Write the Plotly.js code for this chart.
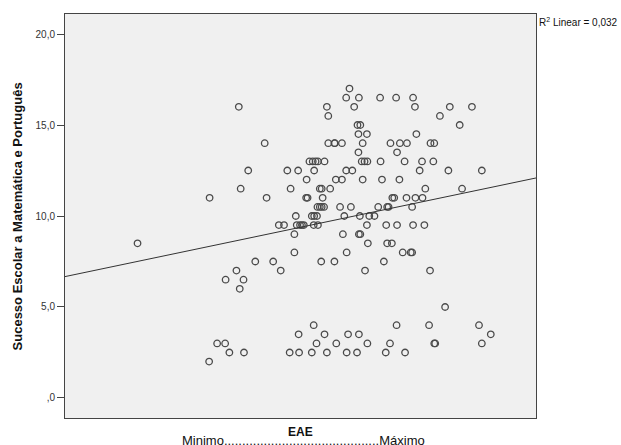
<!DOCTYPE html>
<html>
<head>
<meta charset="utf-8">
<script src="https://cdn.plot.ly/plotly-3.0.1.min.js"></script>
<style>html,body{margin:0;padding:0;background:#fff;}#chart{width:621px;height:445px;}</style>
</head>
<body>
<div id="chart"></div>
<script>
// EAE (horizontal position, arbitrary 0-100 scale: Minimo ... Máximo)
const eae = [
  60.4,
  59.7, 62.4, 66.9, 70.3, 73.9,
  36.9, 55.6, 61.4, 74.3, 81.7, 86.4,
  55.9, 79.6,
  62.1, 62.7, 83.8,
  62.3, 64.1, 74.6,
  42.4, 55.9, 57.2, 57.3, 58.8, 63.2, 69.1, 71.1, 72.6, 77.6, 78.4,
  62.3, 70.5,
  51.9, 52.6, 53.2, 53.7, 55.1, 63.0, 63.6, 64.2, 67.0, 72.1, 75.8, 78.2,
  38.9, 47.2, 49.5, 52.9, 59.7, 61.0, 75.3, 81.4, 88.5,
  51.3, 57.5, 58.8, 63.2, 67.3, 71.0,
  37.3, 47.9, 54.1, 54.5, 56.3, 76.5, 84.3,
  30.7, 42.8, 51.2, 51.5, 54.7, 69.5, 69.9, 72.5, 74.4, 75.9,
  53.6, 54.1, 54.5, 55.0, 58.4, 60.7, 66.5, 68.4, 68.7, 73.7,
  49.0, 52.4, 52.9, 53.5, 59.3, 62.6, 64.6, 65.7,
  45.4, 46.5, 49.2, 49.9, 50.3, 50.7, 52.8, 53.7, 64.1, 68.2, 70.5, 73.9, 76.3,
  48.7, 59.0, 62.4, 62.7,
  15.4, 64.3, 68.4, 69.4,
  48.7, 59.8, 71.7, 73.4, 73.7,
  40.4, 44.2, 54.4, 57.2, 67.7,
  36.4, 45.8, 63.7, 77.5,
  34.1, 37.9,
  37.1,
  80.7,
  52.8, 70.4, 77.3, 87.9,
  49.6, 55.1, 60.1, 62.4, 90.4,
  32.3, 34.0, 53.4, 57.6, 64.2, 69.0, 78.4, 78.6, 88.5,
  34.9, 38.0, 47.7, 49.7, 52.4, 55.6, 59.8, 62.0, 68.1, 72.2,
  30.6
];
// Sucesso Escolar a Matemática e Português
const sucesso = [
  17.0,
  16.5, 16.5, 16.5, 16.5, 16.5,
  16.0, 16.0, 16.0, 16.0, 16.0, 16.0,
  15.5, 15.5,
  15.0, 15.0, 15.0,
  14.5, 14.5, 14.5,
  14.0, 14.0, 14.0, 14.0, 14.0, 14.0, 14.0, 14.0, 14.0, 14.0, 14.0,
  13.5, 13.5,
  13.0, 13.0, 13.0, 13.0, 13.0, 13.0, 13.0, 13.0, 13.0, 13.0, 13.0, 13.0,
  12.5, 12.5, 12.5, 12.5, 12.5, 12.5, 12.5, 12.5, 12.5,
  12.0, 12.0, 12.0, 12.0, 12.0, 12.0,
  11.5, 11.5, 11.5, 11.5, 11.5, 11.5, 11.5,
  11.0, 11.0, 11.0, 11.0, 11.0, 11.0, 11.0, 11.0, 11.0, 11.0,
  10.5, 10.5, 10.5, 10.5, 10.5, 10.5, 10.5, 10.5, 10.5, 10.5,
  10.0, 10.0, 10.0, 10.0, 10.0, 10.0, 10.0, 10.0,
  9.5, 9.5, 9.5, 9.5, 9.5, 9.5, 9.5, 9.5, 9.5, 9.5, 9.5, 9.5, 9.5,
  9.0, 9.0, 9.0, 9.0,
  8.5, 8.5, 8.5, 8.5,
  8.0, 8.0, 8.0, 8.0, 8.0,
  7.5, 7.5, 7.5, 7.5, 7.5,
  7.0, 7.0, 7.0, 7.0,
  6.5, 6.5,
  6.0,
  5.0,
  4.0, 4.0, 4.0, 4.0,
  3.5, 3.5, 3.5, 3.5, 3.5,
  3.0, 3.0, 3.0, 3.0, 3.0, 3.0, 3.0, 3.0, 3.0,
  2.5, 2.5, 2.5, 2.5, 2.5, 2.5, 2.5, 2.5, 2.5, 2.5,
  2.0
];
// Linear fit as shown (R2 Linear = 0,032)
const fitIntercept = 6.67;
const fitSlope = 0.0542;
const xRange = [0, 100];
const yRange = [-1.1, 21.1];
const yTickVals = [0, 5, 10, 15, 20];
const yTickText = [',0', '5,0', '10,0', '15,0', '20,0'];
const r2Label = 'R<sup>2</sup> Linear = 0,032';

const fitX = xRange.slice();
const fitY = fitX.map(x => fitIntercept + fitSlope * x);

const FONT = 'Arial, "Liberation Sans", sans-serif';

const data = [
  {
    type: 'scatter', mode: 'markers', x: eae, y: sucesso,
    marker: {symbol: 'circle-open', size: 6.5, color: '#4a4a4a', line: {width: 1.3, color: '#4a4a4a'}},
    hoverinfo: 'x+y', showlegend: false
  },
  {
    type: 'scatter', mode: 'lines', x: fitX, y: fitY,
    line: {color: '#333333', width: 1}, hoverinfo: 'skip', showlegend: false
  }
];

const layout = {
  width: 621, height: 445,
  margin: {l: 65, r: 85, t: 14, b: 27, pad: 0},
  paper_bgcolor: '#ffffff',
  plot_bgcolor: '#f0f0f0',
  font: {family: FONT, size: 10, color: '#222'},
  showlegend: false,
  xaxis: {
    range: xRange, showticklabels: false, ticks: '', showgrid: false, zeroline: false,
    showline: true, linecolor: '#444', linewidth: 1, mirror: true, fixedrange: true
  },
  yaxis: {
    range: yRange, tickvals: yTickVals, ticktext: yTickText,
    ticks: 'outside', ticklen: 7, tickcolor: '#444', tickwidth: 1,
    tickfont: {family: FONT, size: 10, color: '#333'},
    showgrid: false, zeroline: false,
    showline: true, linecolor: '#444', linewidth: 1, mirror: true, fixedrange: true
  },
  annotations: [
    {
      xref: 'paper', yref: 'paper', x: -0.101, y: 0.5, xanchor: 'center', yanchor: 'middle',
      textangle: -90, showarrow: false,
      text: '<b>Sucesso Escolar a Matemática e Português</b>',
      font: {family: FONT, size: 13, color: '#111'}
    },
    {
      xref: 'paper', yref: 'paper', x: 0.5, y: -0.035, xanchor: 'center', yanchor: 'middle',
      showarrow: false, text: '<b>EAE</b>',
      font: {family: FONT, size: 12, color: '#111'}
    },
    {
      xref: 'paper', yref: 'paper', x: 0.507, y: -0.055, xanchor: 'center', yanchor: 'middle',
      showarrow: false, text: 'Minimo' + '.'.repeat(43) + 'Máximo',
      font: {family: FONT, size: 13, color: '#111'}
    },
    {
      xref: 'paper', yref: 'paper', x: 1, y: 0.98, xanchor: 'left', yanchor: 'middle', xshift: 1,
      showarrow: false, text: r2Label,
      font: {family: FONT, size: 10, color: '#111'}
    }
  ]
};

Plotly.newPlot('chart', data, layout, {displayModeBar: false, staticPlot: true});
</script>
</body>
</html>
